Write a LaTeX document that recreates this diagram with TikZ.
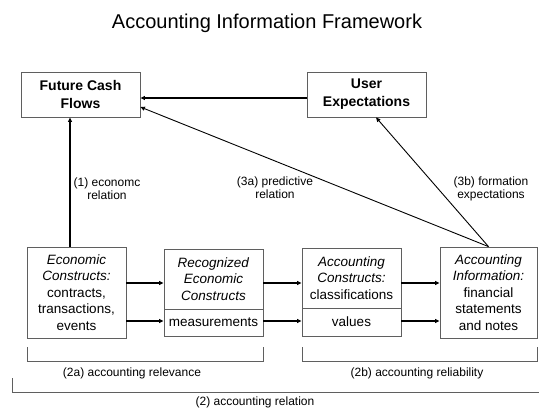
\documentclass[tikz,border=0pt]{standalone}
\usepackage{fontspec}
\setmainfont{Liberation Sans}
\usetikzlibrary{arrows.meta}
\definecolor{boxgray}{RGB}{95,95,95}
\begin{document}
\begin{tikzpicture}[x=1pt,y=-1pt,
  box/.style={draw=boxgray, line width=0.8pt, inner sep=0pt, minimum width=99pt, align=center,
    font=\fontsize{13.5}{16.5}\selectfont},
  topbox/.style={draw=boxgray, line width=0.8pt, inner sep=0pt, minimum width=119pt, minimum height=45pt,
    align=center, font=\fontsize{14}{18}\selectfont\bfseries},
  arr/.style={-{Triangle[length=4.5pt,width=4pt]}, line width=1.3pt},
  thinarr/.style={-{Triangle[length=4.5pt,width=4pt]}, line width=0.9pt},
  lab/.style={font=\fontsize{12}{13}\selectfont, align=center, inner sep=0pt},
  brk/.style={draw=boxgray, line width=0.8pt}]
\useasboundingbox (0,0) rectangle (539,408);

\node[font=\fontsize{20}{24}\selectfont] (title) at (267,23) {Accounting Information Framework};

\node[topbox] (fcf) at (80.5,94.5) {Future Cash\\Flows};
\node[topbox] (ue) at (366.5,94.5) {User\\Expectations};

\node[box, minimum height=91pt] (ec) at (76.5,292.5) {\textit{Economic}\\\textit{Constructs:}\\contracts,\\transactions,\\events};
\node[box, minimum height=60pt] (rect) at (213.5,279) {\textit{Recognized}\\\textit{Economic}\\\textit{Constructs}};
\node[box, minimum height=27pt] (recb) at (213.5,322.5) {measurements};
\node[box, minimum height=60pt] (act) at (351.5,278) {\textit{Accounting}\\\textit{Constructs:}\\classifications};
\node[box, minimum height=28pt] (acb) at (351.5,322) {values};
\node[box, minimum width=97pt, minimum height=91pt] (ai) at (488.5,292.5) {\textit{Accounting}\\\textit{Information:}\\financial\\statements\\and notes};

\coordinate (toprow) at (0,283);
\coordinate (botrow) at (0,321);

% top arrows
\draw[arr] ([yshift=-3.5pt]ue.west) -- ([yshift=-3.5pt]ue.west -| fcf.east);
\draw[arr] ([xshift=-6.5pt]ec.north) -- ([xshift=-6.5pt]ec.north |- fcf.south);
\draw[thinarr] (ai.north) -- ([yshift=-12.5pt]fcf.east);
\draw[thinarr] (ai.north) -- ([xshift=9.5pt]ue.south);

% row arrows
\draw[arr] (ec.east |- toprow) -- (rect.west |- toprow);
\draw[arr] (ec.east |- botrow) -- (recb.west |- botrow);
\draw[arr] (rect.east |- toprow) -- (act.west |- toprow);
\draw[arr] (recb.east |- botrow) -- (acb.west |- botrow);
\draw[arr] (act.east |- toprow) -- (ai.west |- toprow);
\draw[arr] (acb.east |- botrow) -- (ai.west |- botrow);

% labels
\node[lab] (l1) at (107,188.5) {(1) economc\\relation};
\node[lab] (l3a) at (275,188) {(3a) predictive\\relation};
\node[lab] (l3b) at (491,188.5) {(3b) formation\\expectations};

% brackets
\draw[brk] (27,347) -- (27,361) -- (263,361) -- (263,347);
\draw[brk] (302,347) -- (302,361) -- (537,361) -- (537,347);
\draw[brk] (12,378) -- (12,392) -- (539,392);
\node[lab] (l2a) at (132,373) {(2a) accounting relevance};
\node[lab] (l2b) at (417,373) {(2b) accounting reliability};
\node[lab] (l2) at (255,402) {(2) accounting relation};
\end{tikzpicture}
\end{document}
